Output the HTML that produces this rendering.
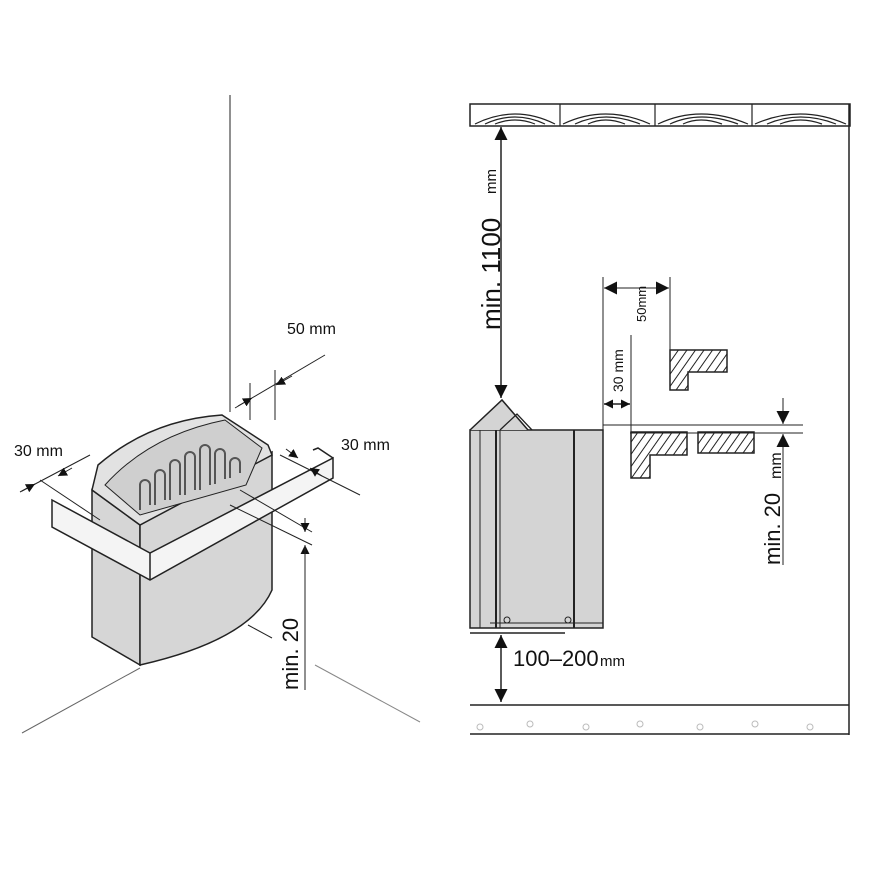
<!DOCTYPE html>
<html><head><meta charset="utf-8"><style>
html,body{margin:0;padding:0;background:#fff;}
svg{display:block;}
text{font-family:"Liberation Sans",sans-serif;fill:#111;}
</style></head><body>
<svg width="870" height="870" viewBox="0 0 870 870" xmlns="http://www.w3.org/2000/svg">
<defs>
<marker id="a" viewBox="0 0 10 10" refX="10" refY="5" markerWidth="9" markerHeight="9" markerUnits="userSpaceOnUse" orient="auto-start-reverse"><path d="M0,0 L10,5 L0,10 z" fill="#111"/></marker>
<marker id="b" viewBox="0 0 10 10" refX="10" refY="5" markerWidth="13" markerHeight="13" markerUnits="userSpaceOnUse" orient="auto-start-reverse"><path d="M0,0 L10,5 L0,10 z" fill="#111"/></marker>
<pattern id="h" width="7" height="7" patternUnits="userSpaceOnUse" patternTransform="rotate(35)"><line x1="0" y1="0" x2="0" y2="7" stroke="#222" stroke-width="2"/></pattern>
</defs>
<g stroke="#222" fill="none" stroke-width="1">
<line x1="230" y1="95" x2="230" y2="412"/>
<line x1="140" y1="668" x2="22" y2="733" stroke="#666"/>
<line x1="315" y1="665" x2="420" y2="722" stroke="#888"/>
<path d="M92,490 L140,525 L140,665 L92,637 Z" fill="#d6d6d6" stroke-width="1.5"/>
<path d="M140,525 L272,452 L272,590 Q250,640 140,665 Z" fill="#d6d6d6" stroke-width="1.5"/>
<path d="M92,490 L98,465 Q150,420 222,415 L268,445 L272,455 L140,525 Z" fill="#e2e2e2" stroke-width="1.5"/>
<path d="M105,485 Q150,435 225,420 L262,448 L246,485 L140,515 Z" fill="#cfcfcf"/>
<g stroke="#555" stroke-width="2" fill="none">
<path d="M140,510 v-25 a5,5 0 0 1 10,0 v20"/><path d="M155,505 v-30 a5,5 0 0 1 10,0 v25"/>
<path d="M170,500 v-35 a5,5 0 0 1 10,0 v30"/><path d="M185,495 v-38 a5,5 0 0 1 10,0 v33"/>
<path d="M200,490 v-40 a5,5 0 0 1 10,0 v35"/><path d="M215,484 v-30 a5,5 0 0 1 10,0 v25"/>
<path d="M230,478 v-15 a5,5 0 0 1 10,0 v10"/>
</g>
<path d="M52,500 L150,553 L333,458 L333,478 L150,580 L52,527 Z" fill="#f4f4f4" stroke-width="1.5"/>
<line x1="150" y1="553" x2="150" y2="580" stroke-width="1.5"/>
<path d="M313,450 L318,448 L333,458" stroke-width="1.5"/>
<line x1="250" y1="383" x2="250" y2="420"/><line x1="275" y1="370" x2="275" y2="420"/>
<line x1="235" y1="408" x2="325" y2="355"/>
<line x1="238" y1="406" x2="252" y2="398" marker-end="url(#a)"/>
<line x1="292" y1="376" x2="276" y2="385" marker-end="url(#a)"/>
<line x1="20" y1="492" x2="90" y2="455"/>
<line x1="22" y1="491" x2="35" y2="484" marker-end="url(#a)"/>
<line x1="72" y1="468" x2="58" y2="476" marker-end="url(#a)"/>
<line x1="40" y1="480" x2="100" y2="520"/>
<line x1="280" y1="455" x2="360" y2="495"/>
<line x1="286" y1="449" x2="298" y2="458" marker-end="url(#a)"/>
<line x1="322" y1="476" x2="310" y2="468" marker-end="url(#a)"/>
<line x1="230" y1="505" x2="312" y2="545"/>
<line x1="240" y1="490" x2="312" y2="532"/>
<line x1="305" y1="518" x2="305" y2="532" marker-end="url(#a)"/>
<line x1="305" y1="570" x2="305" y2="545" marker-end="url(#a)"/>
<line x1="305" y1="545" x2="305" y2="690"/>
<line x1="248" y1="625" x2="272" y2="638"/>
</g>
<text x="287" y="334" font-size="16">50 mm</text>
<text x="14" y="456" font-size="16">30 mm</text>
<text x="341" y="450" font-size="16">30 mm</text>
<text transform="translate(298,690) rotate(-90)" font-size="22">min. 20</text>

<g stroke="#222" fill="none">
<rect x="470" y="104" width="380" height="22" fill="#fff" stroke-width="1.5"/>
<g stroke-width="1.2">
<line x1="560" y1="104" x2="560" y2="126"/><line x1="655" y1="104" x2="655" y2="126"/><line x1="752" y1="104" x2="752" y2="126"/>
<path d="M475,124 Q515,104 555,124 M485,124 Q515,110 545,124 M495,124 Q515,116 535,124"/>
<path d="M563,124 Q605,104 650,124 M575,124 Q605,110 640,124 M588,124 Q605,116 625,124"/>
<path d="M658,124 Q700,104 748,124 M670,124 Q700,110 738,124 M683,124 Q700,116 722,124"/>
<path d="M755,124 Q800,104 846,124 M767,124 Q800,110 836,124 M780,124 Q800,116 822,124"/>
</g>
<line x1="849" y1="104" x2="849" y2="735" stroke-width="1.5"/>
<line x1="470" y1="705" x2="849" y2="705" stroke-width="1.5"/>
<line x1="470" y1="734" x2="849" y2="734" stroke-width="1.5"/>
<g stroke="#bbb"><circle cx="480" cy="727" r="3"/><circle cx="530" cy="724" r="3"/><circle cx="586" cy="727" r="3"/><circle cx="640" cy="724" r="3"/><circle cx="700" cy="727" r="3"/><circle cx="755" cy="724" r="3"/><circle cx="810" cy="727" r="3"/></g>
<rect x="470" y="430" width="133" height="198" fill="#d4d4d4" stroke-width="1.5"/>
<path d="M470,430 L502,400 L528,430" fill="#d4d4d4" stroke-width="1.5"/>
<path d="M500,430 L517,414 L532,430" stroke-width="1.3"/>
<line x1="480" y1="430" x2="480" y2="628"/><line x1="496" y1="430" x2="496" y2="628" stroke-width="2"/>
<line x1="500" y1="430" x2="500" y2="628"/><line x1="574" y1="430" x2="574" y2="628" stroke-width="2"/>
<line x1="490" y1="623" x2="603" y2="623"/>
<line x1="470" y1="633" x2="565" y2="633" stroke-width="1.5"/>
<circle cx="507" cy="620" r="3"/><circle cx="568" cy="620" r="3"/>
<path d="M670,350 H727 V372 H688 V390 H670 Z" fill="url(#h)" stroke-width="1.5"/>
<path d="M631,432 H687 V455 H650 V478 H631 Z" fill="url(#h)" stroke-width="1.5"/>
<rect x="698" y="432" width="56" height="21" fill="url(#h)" stroke-width="1.5"/>
<line x1="501" y1="127" x2="501" y2="398" stroke-width="1.5" marker-start="url(#b)" marker-end="url(#b)"/>
<line x1="501" y1="635" x2="501" y2="702" stroke-width="1.5" marker-start="url(#b)" marker-end="url(#b)"/>
<line x1="603" y1="277" x2="603" y2="430"/><line x1="670" y1="277" x2="670" y2="350"/><line x1="631" y1="335" x2="631" y2="432"/>
<line x1="604" y1="288" x2="669" y2="288" marker-start="url(#b)" marker-end="url(#b)"/>
<line x1="604" y1="404" x2="630" y2="404" stroke-width="1.5" marker-start="url(#a)" marker-end="url(#a)"/>
<line x1="603" y1="425" x2="803" y2="425"/><line x1="630" y1="433" x2="803" y2="433"/>
<line x1="783" y1="398" x2="783" y2="424" marker-end="url(#b)"/>
<line x1="783" y1="565" x2="783" y2="434" marker-end="url(#b)"/>
</g>
<text transform="translate(500,330) rotate(-90)" font-size="26">min. 1100</text>
<text transform="translate(496,194) rotate(-90)" font-size="15">mm</text>
<text transform="translate(646,322) rotate(-90)" font-size="13">50mm</text>
<text transform="translate(623,392) rotate(-90)" font-size="14">30 mm</text>
<text transform="translate(780,565) rotate(-90)" font-size="22">min. 20</text>
<text transform="translate(781,479) rotate(-90)" font-size="16">mm</text>
<text x="513" y="666" font-size="22">100–200</text><text x="600" y="666" font-size="15">mm</text>
</svg>
</body></html>
